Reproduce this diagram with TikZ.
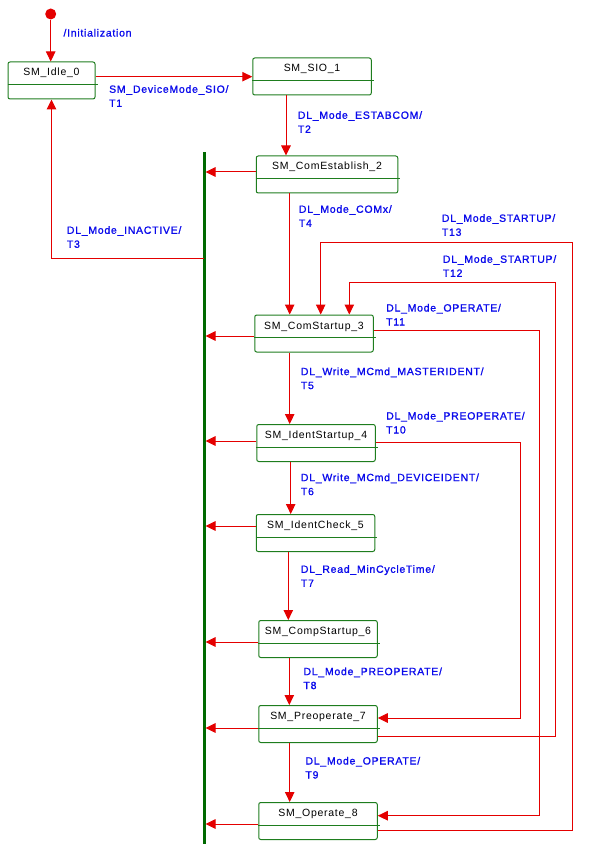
\documentclass[tikz,border=0pt]{standalone}
\usepackage{fontspec}
\newfontfamily\diagfont{Liberation Sans}[LetterSpace=7]
\newfontfamily\labelfont{Liberation Sans}[LetterSpace=7,FakeBold=1.2]
\usetikzlibrary{arrows.meta}
\definecolor{lineRed}{RGB}{228,0,0}
\definecolor{boxGreen}{RGB}{30,125,30}
\definecolor{barGreen}{RGB}{0,105,0}
\definecolor{labelBlue}{RGB}{10,10,235}

\begin{document}
\begin{tikzpicture}
[x=1pt,y=-1pt,
  stateDecorate/.style={shape=rectangle,draw=boxGreen,line width=1pt,rounded corners=2pt,minimum height=37pt,inner sep=0pt},%
  nameDecorate/.style={font={\diagfont\fontsize{10.5}{14}\selectfont},inner sep=0pt,anchor=base},%
  labelDecorate/.style={font={\labelfont\fontsize{10.5}{14}\selectfont},text=labelBlue,inner sep=0pt,anchor=north west,align=left},%
  lineDecorate/.style={draw=lineRed,line width=1pt,-{Triangle[length=10pt,width=9.5pt]}}]
\useasboundingbox (0,0) rectangle (604,858);
%% states
\foreach \nodename/\x/\y/\w/\txt in {s0/51.5/80.5/87/SM\_Idle\_0, s1/312/76.5/118.5/SM\_SIO\_1,
  s2/327/174.5/141.5/SM\_ComEstablish\_2, s3/314/333.5/118.5/SM\_ComStartup\_3,
  s4/316/443/118.5/SM\_IdentStartup\_4, s5/315.5/533/118.5/SM\_IdentCheck\_5,
  s6/318/639/118.5/SM\_CompStartup\_6, s7/318/724/118.5/SM\_Preoperate\_7,
  s8/318/821/118.5/SM\_Operate\_8} {
  \node (\nodename) at (\x,\y) [stateDecorate,minimum width=\w pt] {};
  \node (name\nodename) at ([yshift=-14.5pt]\nodename.north) [nameDecorate] {\txt};
  \draw[boxGreen,line width=1pt] ([yshift=-4pt]\nodename.west) -- ([yshift=-4pt,xshift=2pt]\nodename.east);
}
%% initial state
\node (init) at (50.7,14) [circle,fill=lineRed,inner sep=0pt,minimum size=11pt] {};
\draw[lineDecorate] (init) -- (init |- s0.north);
%% junction bar
\coordinate (bartop) at (204,152.5);
\coordinate (barbot) at (204,844);
\draw[barGreen,line width=3pt] (bartop) -- (barbot);
\foreach \nodename/\dy in {s2/2.5, s3/-2.5, s4/2, s5/7, s6/-3, s7/-4, s8/-3} {
  \coordinate (out\nodename) at ([yshift=\dy pt]\nodename.west);
  \draw[lineDecorate,shorten >=1.5pt] (out\nodename) -- (out\nodename -| bartop);
}
%% transitions
\coordinate (tone) at ([yshift=3.8pt]s0.east);
\draw[lineDecorate] (tone) -- (tone -| s1.west);
\draw[lineDecorate] (bartop |- 0,259) -| (s0.south);
\path
\foreach \startnode/\endnode/\x in {s1/s2/286, s2/s3/289.7, s3/s4/289.7, s4/s5/290.7,
  s5/s6/288.3, s6/s7/289.3, s7/s8/289.7} {
  (\startnode.south -| \x,0) edge[lineDecorate] (\endnode.north -| \x,0)
};
\draw[lineDecorate] ([yshift=1pt]s4.east) -| (520,718) -- ([yshift=6pt]s7.east);
\draw[lineDecorate] ([yshift=3.5pt]s3.east) -| (539,815.7) -- ([yshift=5.3pt]s8.east);
\draw[lineDecorate] ([yshift=-12.3pt]s7.east) -| (555.7,282.3) -| (349.3,0 |- s3.north);
\draw[lineDecorate] ([yshift=-9.7pt]s8.east) -| (572.3,242.3) -| (320.7,0 |- s3.north);
%% labels
\foreach \labelname/\x/\y/\txt in {lzero/63.3/28.7/{/Initialization},
  lone/109/85/{SM\_DeviceMode\_SIO/\\T1}, ltwo/297.7/111/{DL\_Mode\_ESTABCOM/\\T2},
  lthree/66.7/226/{DL\_Mode\_INACTIVE/\\T3}, lfour/298.7/205/{DL\_Mode\_COMx/\\T4},
  lfive/300.7/367.3/{DL\_Write\_MCmd\_MASTERIDENT/\\T5},
  lsix/300.7/473.3/{DL\_Write\_MCmd\_DEVICEIDENT/\\T6},
  lseven/300.7/565/{DL\_Read\_MinCycleTime/\\T7}, leight/303.3/667.3/{DL\_Mode\_PREOPERATE/\\T8},
  lnine/305.3/756.7/{DL\_Mode\_OPERATE/\\T9}, lten/386/411.7/{DL\_Mode\_PREOPERATE/\\T10},
  leleven/386/303.7/{DL\_Mode\_OPERATE/\\T11}, ltwelve/442.7/255/{DL\_Mode\_STARTUP/\\T12},
  lthirteen/441.7/214/{DL\_Mode\_STARTUP/\\T13}} {
  \node (\labelname) at (\x,\y) [labelDecorate] {\txt};
}
\end{tikzpicture}
\end{document}
